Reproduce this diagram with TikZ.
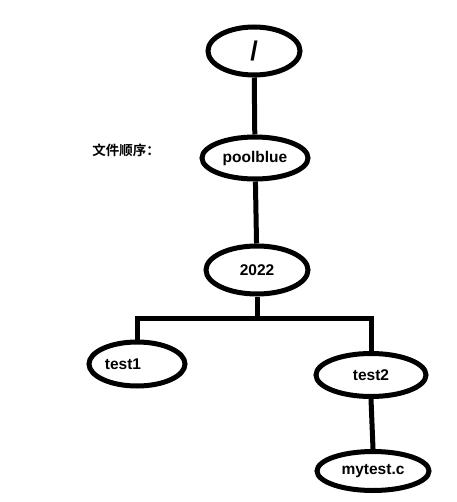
\documentclass[tikz,border=0pt]{standalone}
\usepackage{fontspec}
\setmainfont{Liberation Sans}
\newfontfamily\cjk{Noto Sans CJK SC}[BoldFont={Noto Sans CJK SC Bold}]
\usetikzlibrary{shapes.geometric}
\tikzset{
  dirnode/.style={draw=black,ellipse,line width=5pt,inner sep=0,font=\bfseries\fontsize{15.5}{15.5}\selectfont},
  treeline/.style={black,line width=5pt}
}
\begin{document}
\begin{tikzpicture}[x=1pt,y=-1pt]
  \useasboundingbox (0,0) rectangle (456,502);
  \node[dirnode,minimum width=92pt,minimum height=48pt,font=\bfseries\fontsize{27}{27}\selectfont] (root) at (254,51) {/};
  \node[dirnode,minimum width=106pt,minimum height=42pt] (pool) at (255,158) {poolblue};
  \node[dirnode,minimum width=102pt,minimum height=48pt] (y2022) at (257,270) {2022};
  \node[dirnode,minimum width=96pt,minimum height=44pt,label={[xshift=-14pt,font=\bfseries\fontsize{15.5}{15.5}\selectfont]center:test1}] (test1) at (137,364) {};
  \node[dirnode,minimum width=110pt,minimum height=43pt] (test2) at (371,375) {test2};
  \node[dirnode,minimum width=112pt,minimum height=39pt] (mytest) at (373,471) {mytest.c};
  \node[font=\cjk\bfseries\fontsize{13.5}{13.5}\selectfont,inner sep=0] (order) at (126,150) {文件顺序：};
  \coordinate (split) at (257,318);
  \draw[treeline] (root) -- (pool);
  \draw[treeline] (pool) -- (y2022);
  \draw[treeline] (y2022) -- (split);
  \draw[treeline] (test1.north) |- (split) -| (test2.north);
  \draw[treeline] (test2.south) -- (mytest.north);
\end{tikzpicture}
\end{document}
